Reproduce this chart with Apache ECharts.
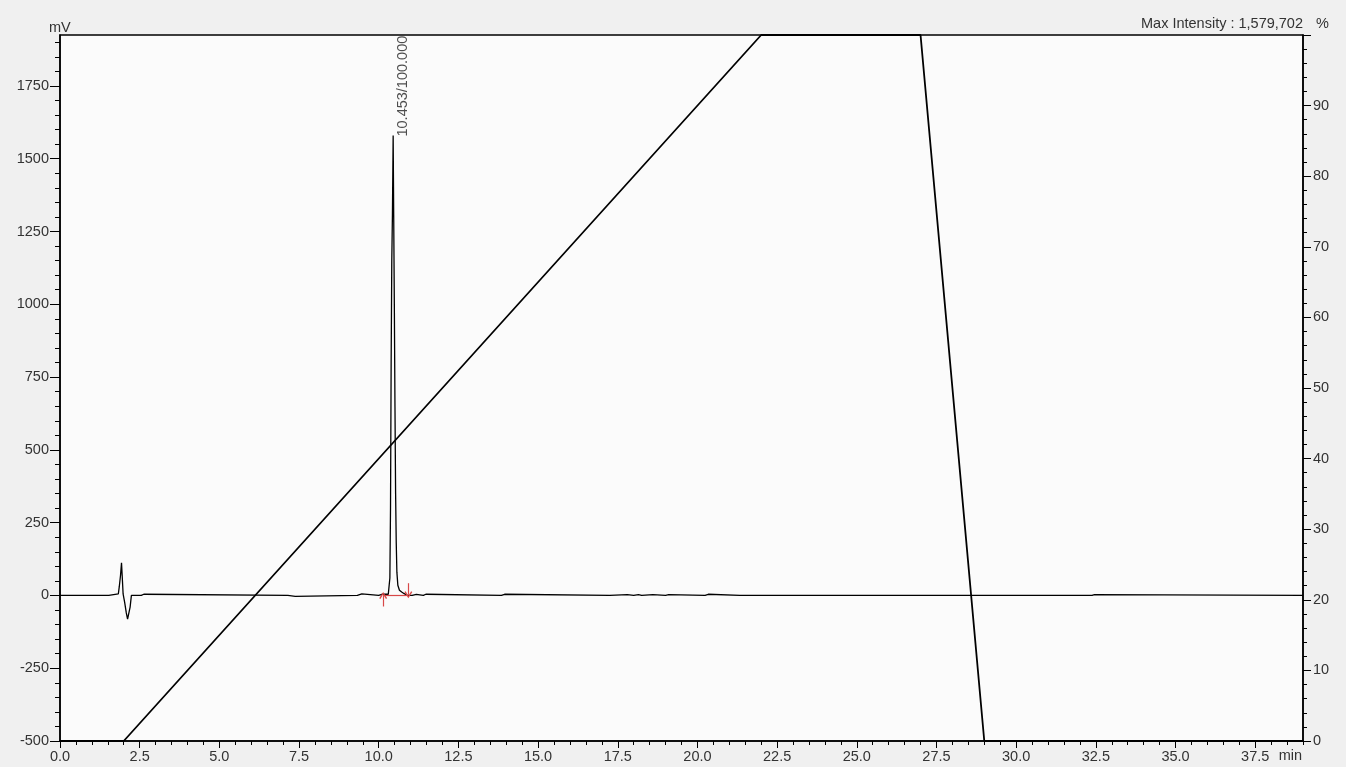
<!DOCTYPE html>
<html>
<head>
<meta charset="utf-8">
<title>Chromatogram</title>
<script src="https://cdn.jsdelivr.net/npm/echarts@6/dist/echarts.min.js"></script>
<style>
  html, body { margin: 0; padding: 0; background: #f0f0f0; }
  #chart { width: 1346px; height: 767px; }
</style>
</head>
<body>
<div id="chart"></div>
<script>
// Detector signal (mV) against retention time (min)
const chromTime = [
  0, 1.53, 1.55, 1.83, 1.86, 1.90, 1.93, 1.95, 1.98, 2.03, 2.08, 2.12, 2.17, 2.20, 2.24,
  2.55, 2.57, 2.63, 2.65, 7.15, 7.18, 7.38, 7.41, 9.33, 9.35, 9.47, 9.49, 10.00, 10.02,
  10.10, 10.14, 10.30, 10.33, 10.35, 10.37, 10.39, 10.41, 10.43, 10.453, 10.47, 10.49,
  10.51, 10.53, 10.55, 10.57, 10.60, 10.65, 10.72, 10.80, 10.85, 10.90, 11.05, 11.07,
  11.18, 11.20, 11.40, 11.42, 11.48, 11.50, 13.85, 13.87, 13.95, 13.97, 17.25, 17.27,
  17.80, 17.82, 18.00, 18.02, 18.15, 18.17, 18.25, 18.27, 18.60, 18.62, 19.00, 19.02,
  19.10, 19.12, 20.24, 20.26, 20.34, 20.36, 21.33, 21.35, 21.37, 22.74, 22.76, 22.78,
  32.38, 32.40, 32.46, 32.48, 39
];
const chromMv = [
  0, 0, 5, 5, 30, 70, 112, 70, 5, -25, -60, -81, -81, -40, 0,
  0, 4, 4, 0, 0, -3, -3, 0, 0, 5, 5, 0, 0, 4,
  4, 2, 4, 10, 60, 300, 800, 1150, 1306, 1579.702, 1306, 1000,
  650, 350, 180, 80, 35, 18, 12, 6, 2, 0, 0, 4,
  4, 0, 0, 4, 4, 0, 0, 4, 4, 0, 0, 3,
  3, 0, 0, 3, 3, 0, 0, 3, 3, 0, 0, 3,
  3, 0, 0, 4, 4, 0, 0, -3, 0, 0, -3, 0,
  0, 3, 3, 0, 0
];

// Mobile phase gradient (% B)
const gradTime = [0, 2.0, 22.0, 27.0, 29.0, 39.0];
const gradPct = [0, 0, 100, 100, 0, 0];

// Integrated peak: retention time, height (mV), area %, integration start / end
const peakTime = [10.453];
const peakHeight = [1579.702];
const peakAreaPct = [100.0];
const peakStart = [10.14];
const peakEnd = [10.93];

// Axis ticks
const xMajorTicks = [0, 2.5, 5, 7.5, 10, 12.5, 15, 17.5, 20, 22.5, 25, 27.5, 30, 32.5, 35, 37.5];
const mvMajorTicks = [-500, -250, 0, 250, 500, 750, 1000, 1250, 1500, 1750];
const pctMajorTicks = [0, 10, 20, 30, 40, 50, 60, 70, 80, 90, 100];
const pctLabels = [0, 10, 20, 30, 40, 50, 60, 70, 80, 90];

const X_MIN = 0, X_MAX = 39;
const MV_MIN = -500, MV_MAX = 1925;
const PCT_MIN = 0, PCT_MAX = 100;

function steps(a, b, step) {
  const out = [];
  for (let v = a; v <= b + 1e-9; v += step) out.push(Math.round(v * 1000) / 1000);
  return out;
}
const xMinorTicks = steps(X_MIN, X_MAX, 0.5);
const mvMinorTicks = steps(MV_MIN, 1900, 50);
const pctMinorTicks = steps(PCT_MIN, PCT_MAX, 2);

const FONT = "'Liberation Sans', Arial, sans-serif";
const TXT = '#333333';

const chromData = chromTime.map((t, i) => [t, chromMv[i]]);
const gradData = gradTime.map((t, i) => [t, gradPct[i]]);

function fmtThousands(n) {
  return String(Math.round(n)).replace(/\B(?=(\d{3})+(?!\d))/g, ',');
}
const maxIntensityText = 'Max Intensity : ' + fmtThousands(peakHeight[0] * 1000);

const chevron = 'path://M0,9 L5,0 L10,9 L8.4,9.8 L5,3.2 L1.6,9.8 Z';

const axisLineStyle = { color: '#000', width: 1.5 };

const chart = echarts.init(document.getElementById('chart'), null, { renderer: 'canvas' });
chart.setOption({
  backgroundColor: '#f0f0f0',
  animation: false,
  grid: {
    left: 60, right: 43, top: 35, bottom: 26,
    show: true, backgroundColor: '#fbfbfb', borderColor: '#000', borderWidth: 1.5
  },
  xAxis: [
    {
      type: 'value', min: X_MIN, max: X_MAX, position: 'bottom',
      axisLine: { show: true, onZero: false, lineStyle: axisLineStyle },
      axisTick: { show: true, inside: false, length: 7, customValues: xMajorTicks, lineStyle: { color: '#000', width: 1 } },
      axisLabel: { show: true, customValues: xMajorTicks, margin: 8, color: TXT, fontSize: 14.5, fontFamily: FONT,
        formatter: v => Number(v).toFixed(1) },
      splitLine: { show: false }
    },
    {
      type: 'value', min: X_MIN, max: X_MAX, position: 'bottom',
      axisLine: { show: false, onZero: false },
      axisTick: { show: true, inside: false, length: 4, customValues: xMinorTicks, lineStyle: { color: '#000', width: 1 } },
      axisLabel: { show: false },
      splitLine: { show: false }
    }
  ],
  yAxis: [
    {
      type: 'value', min: MV_MIN, max: MV_MAX, position: 'left',
      axisLine: { show: true, onZero: false, lineStyle: axisLineStyle },
      axisTick: { show: true, inside: false, length: 10, customValues: mvMajorTicks, lineStyle: { color: '#000', width: 1 } },
      axisLabel: { show: true, customValues: mvMajorTicks, margin: 11, color: TXT, fontSize: 14.5, fontFamily: FONT,
        formatter: v => String(v) },
      splitLine: { show: false }
    },
    {
      type: 'value', min: PCT_MIN, max: PCT_MAX, position: 'right',
      axisLine: { show: true, onZero: false, lineStyle: axisLineStyle },
      axisTick: { show: true, inside: false, length: 8, customValues: pctMajorTicks, lineStyle: { color: '#000', width: 1 } },
      axisLabel: { show: true, customValues: pctLabels, margin: 10, color: TXT, fontSize: 14.5, fontFamily: FONT,
        formatter: v => String(v) },
      splitLine: { show: false }
    },
    {
      type: 'value', min: MV_MIN, max: MV_MAX, position: 'left',
      axisLine: { show: false, onZero: false },
      axisTick: { show: true, inside: false, length: 5, customValues: mvMinorTicks, lineStyle: { color: '#000', width: 1 } },
      axisLabel: { show: false },
      splitLine: { show: false }
    },
    {
      type: 'value', min: PCT_MIN, max: PCT_MAX, position: 'right',
      axisLine: { show: false, onZero: false },
      axisTick: { show: true, inside: false, length: 4, customValues: pctMinorTicks, lineStyle: { color: '#000', width: 1 } },
      axisLabel: { show: false },
      splitLine: { show: false }
    }
  ],
  series: [
    {
      name: 'Gradient', type: 'line', xAxisIndex: 0, yAxisIndex: 1,
      data: gradData, showSymbol: false, symbol: 'none', clip: false,
      lineStyle: { color: '#000', width: 1.8 }, z: 2
    },
    {
      name: 'Signal', type: 'line', xAxisIndex: 0, yAxisIndex: 0,
      data: chromData, showSymbol: false, symbol: 'none',
      lineStyle: { color: '#000', width: 1.3 }, z: 3,
      markLine: {
        silent: true, animation: false, symbol: 'none',
        label: { show: false },
        lineStyle: { color: '#d84848', width: 1.2, type: 'solid' },
        data: [
          [{ coord: [peakStart[0], 0] }, { coord: [peakEnd[0], 0] }],
          [{ coord: [peakStart[0], -38], symbol: 'none' }, { coord: [peakStart[0], 0], symbol: chevron, symbolSize: [8, 7] }],
          [{ coord: [peakEnd[0], 42], symbol: 'none' }, { coord: [peakEnd[0], 2], symbol: chevron, symbolSize: [8, 7] }]
        ]
      }
    },
    {
      name: 'Peak label', type: 'scatter', xAxisIndex: 0, yAxisIndex: 0,
      data: [[peakTime[0], peakHeight[0]]],
      symbolSize: 2, itemStyle: { color: 'rgba(0,0,0,0)' }, z: 4,
      label: {
        show: true, rotate: 90, position: [11, 2], align: 'left', verticalAlign: 'middle',
        color: '#222222', fontSize: 14.5, fontFamily: FONT,
        formatter: () => peakTime[0].toFixed(3) + '/' + peakAreaPct[0].toFixed(3)
      }
    }
  ],
  graphic: [
    { type: 'text', left: 49, top: 20, style: { text: 'mV', fill: TXT, font: '14.5px ' + FONT } },
    { type: 'text', right: 43, top: 16, style: { text: maxIntensityText, fill: TXT, font: '14.5px ' + FONT } },
    { type: 'text', left: 1316, top: 16, style: { text: '%', fill: TXT, font: '14.5px ' + FONT } },
    { type: 'text', right: 44, top: 748, style: { text: 'min', fill: TXT, font: '14.5px ' + FONT } }
  ]
});
</script>
</body>
</html>
